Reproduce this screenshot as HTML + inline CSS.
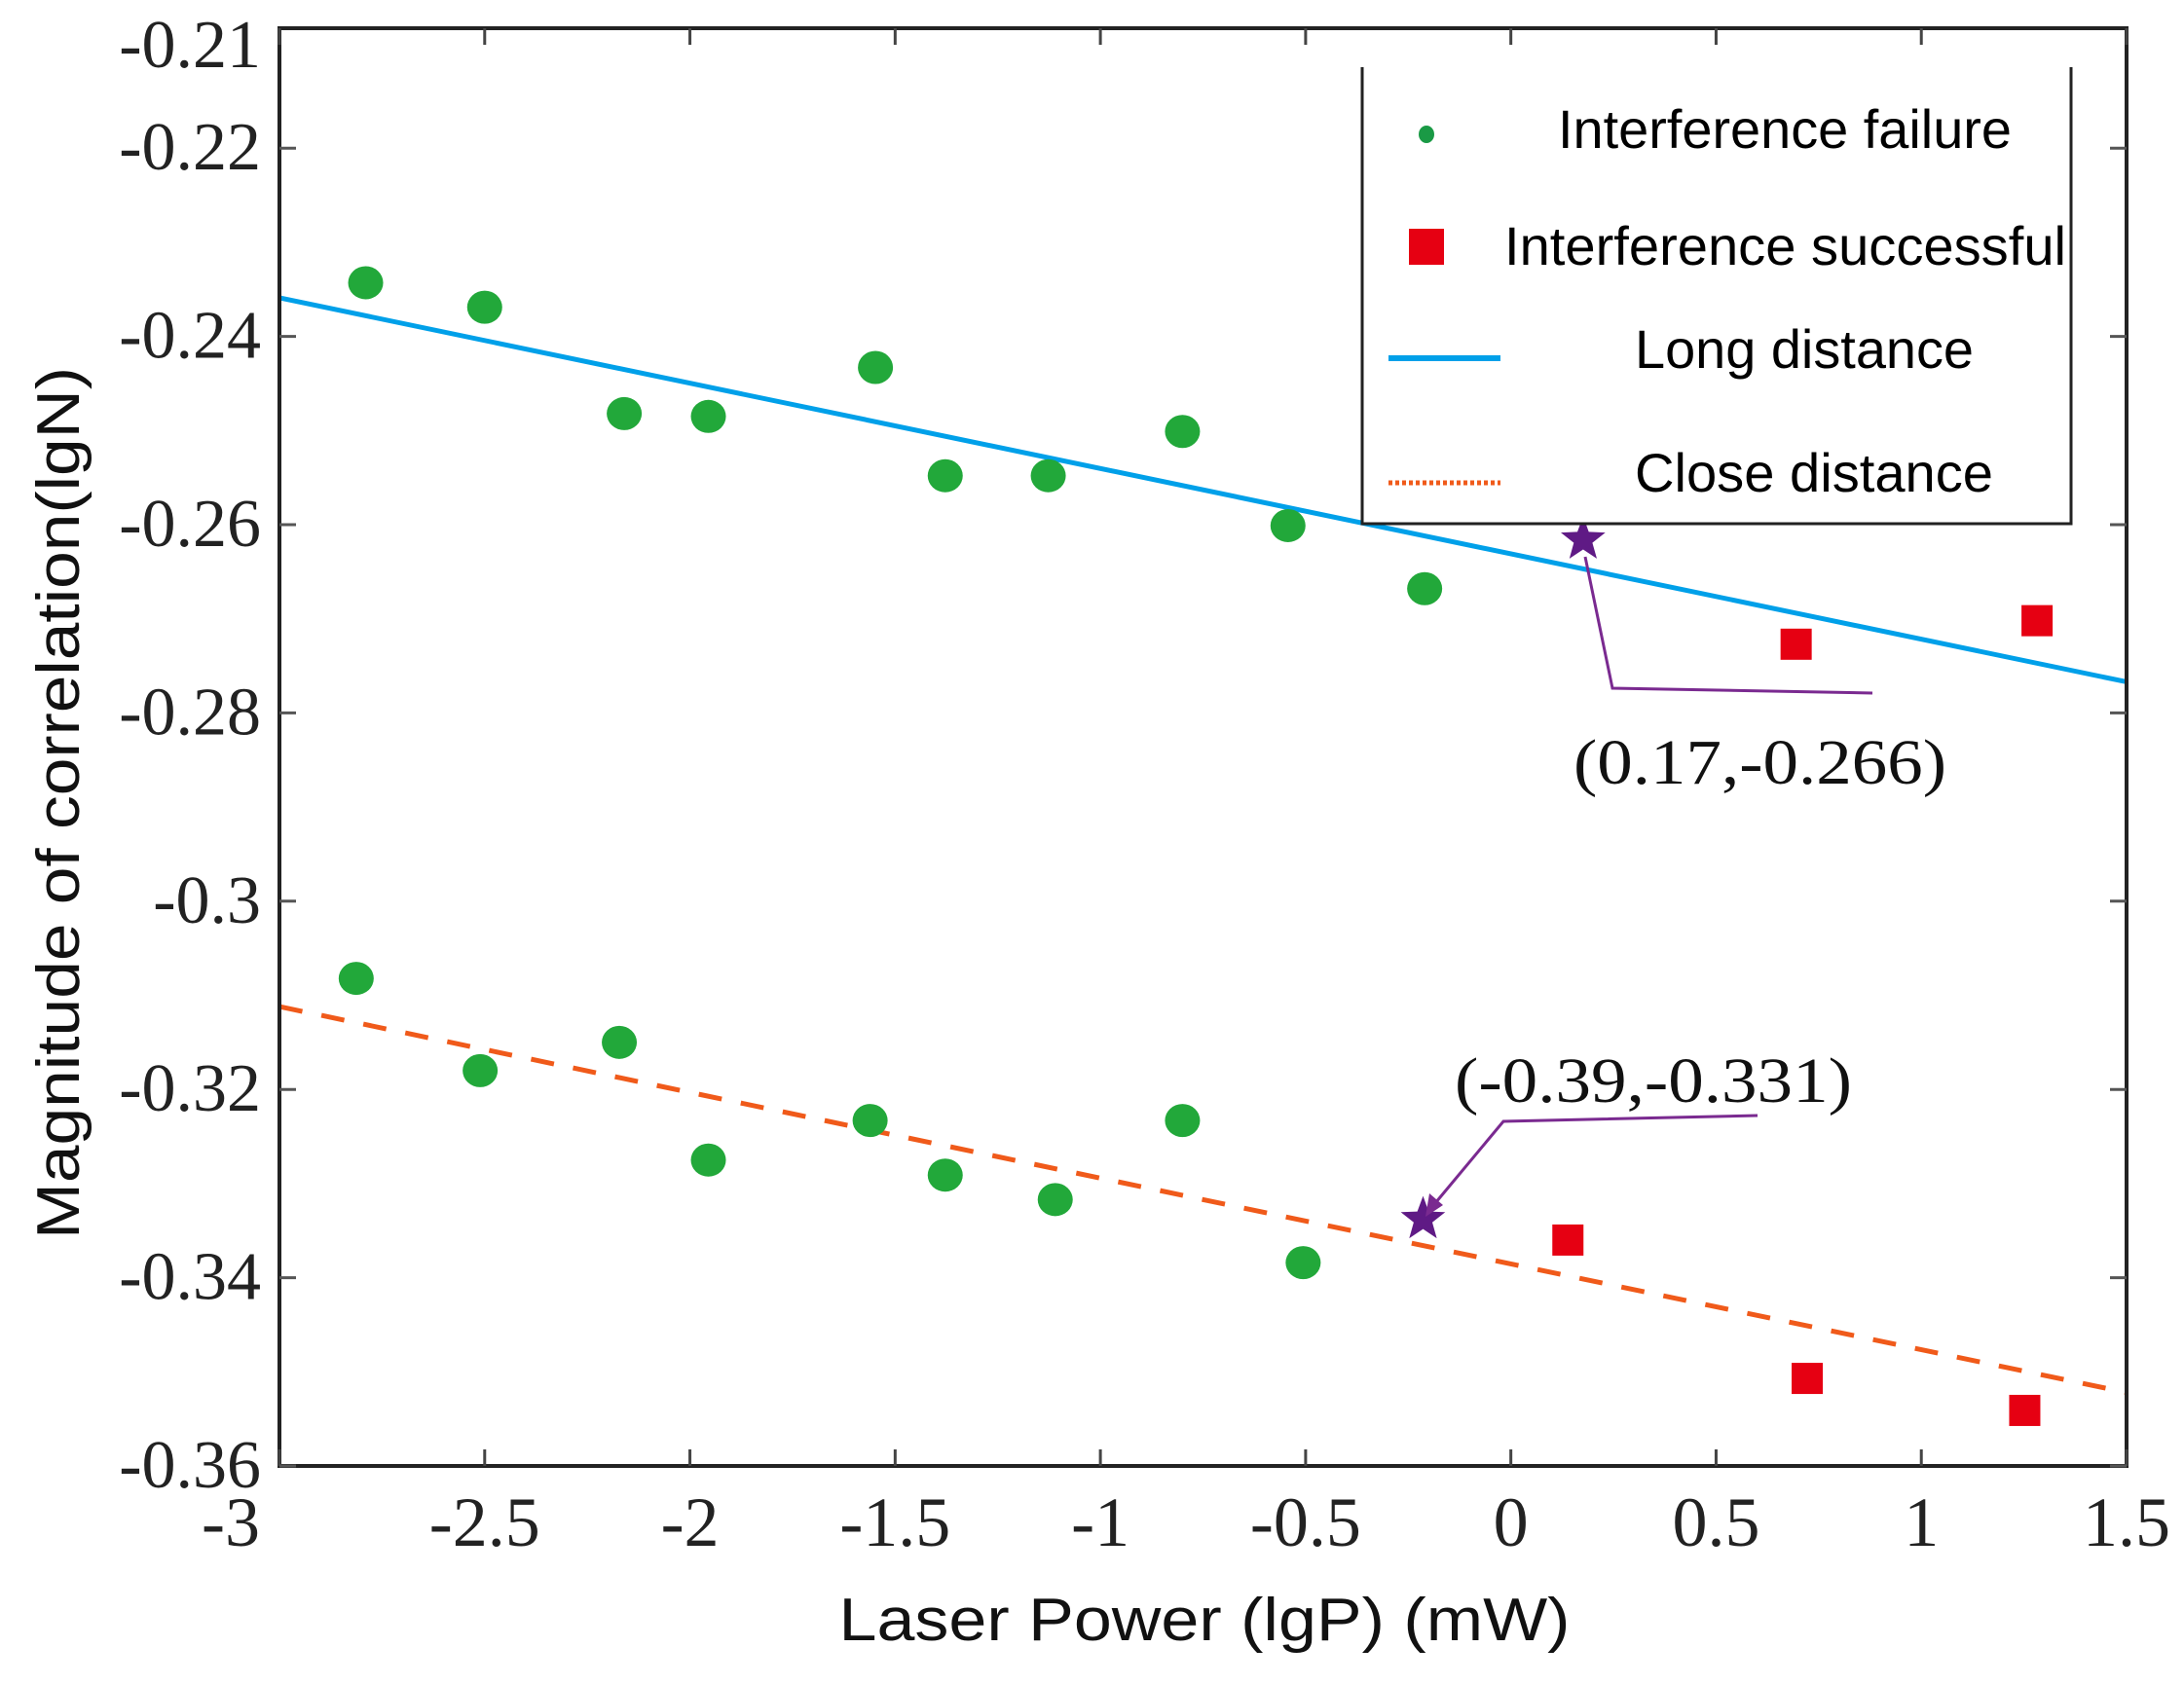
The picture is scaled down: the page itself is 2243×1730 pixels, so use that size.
<!DOCTYPE html>
<html><head><meta charset="utf-8"><style>
html,body{margin:0;padding:0;background:#fff;}
svg{display:block;}
</style></head><body>
<svg id="chart" width="2243" height="1730" viewBox="0 0 2243 1730" xmlns="http://www.w3.org/2000/svg">
<rect x="0" y="0" width="2243" height="1730" fill="#fff"/>
<g id="grid"></g>
<g id="lines"></g>
<g id="marks"></g>
<g id="axes"></g>
<g id="annots"></g>
<g id="legend"></g>
</svg>
<script>
const xTicks = [-3,-2.5,-2,-1.5,-1,-0.5,0,0.5,1,1.5];
const xTickLabels = ["-3","-2.5","-2","-1.5","-1","-0.5","0","0.5","1","1.5"];
const yTicks = [-0.21,-0.22,-0.24,-0.26,-0.28,-0.3,-0.32,-0.34,-0.36];
const yTickLabels = ["-0.21","-0.22","-0.24","-0.26","-0.28","-0.3","-0.32","-0.34","-0.36"];
const failLongX = [-2.79,-2.50,-2.16,-1.955,-1.548,-1.378,-1.127,-0.80,-0.543,-0.21];
const failLongY = [-0.2343,-0.2369,-0.2482,-0.2485,-0.2433,-0.2548,-0.2548,-0.2501,-0.2601,-0.2668];
const succLongX = [0.695,1.282];
const succLongY = [-0.2727,-0.2702];
const failCloseX = [-2.813,-2.511,-2.172,-1.955,-1.561,-1.378,-1.11,-0.80,-0.506];
const failCloseY = [-0.3082,-0.3180,-0.3150,-0.3275,-0.3233,-0.3291,-0.3317,-0.3233,-0.3384];
const succCloseX = [0.139,0.722,1.252];
const succCloseY = [-0.3360,-0.3507,-0.3541];
const longFitX = [-3,1.5];
const longFitY = [-0.2359,-0.2767];
const closeFitX = [-3,1.5];
const closeFitY = [-0.3112,-0.3522];
const starLong = [0.176,-0.2616];
const starClose = [-0.214,-0.3338];

const L=287,R=2184,T=29,B=1506;
const X0=-3,X1=1.5;
const YB=-0.36, YPX=9670;
function sx(v){return L+(v-X0)/(X1-X0)*(R-L);}
function sy(v){return B-(v-YB)*YPX;}
const NS="http://www.w3.org/2000/svg";
function mk(tag,attrs,parent){const e=document.createElementNS(NS,tag);for(const k in attrs)e.setAttribute(k,attrs[k]);parent.appendChild(e);return e;}
const gLines=document.getElementById('lines'),gMarks=document.getElementById('marks'),gAxes=document.getElementById('axes'),gAnn=document.getElementById('annots'),gLeg=document.getElementById('legend');

let e=mk('line',{x1:sx(longFitX[0]),y1:sy(longFitY[0]),x2:sx(longFitX[1]),y2:sy(longFitY[1]),stroke:'#00a0e9','stroke-width':5},gLines);


e=mk('line',{x1:sx(closeFitX[0]),y1:sy(closeFitY[0]),x2:sx(closeFitX[1]),y2:sy(closeFitY[1]),stroke:'#f05a1a','stroke-width':5,'stroke-dasharray':'24 20'},gLines);



function dots(xs,ys,name){for(let i=0;i<xs.length;i++){const c=mk('ellipse',{cx:sx(xs[i]),cy:sy(ys[i]),rx:18,ry:17,fill:'#22a83a'},gMarks);

}}
function squares(xs,ys,name){for(let i=0;i<xs.length;i++){const r=mk('rect',{x:sx(xs[i])-16,y:sy(ys[i])-16,width:32,height:32,fill:'#e60012'},gMarks);

}}
dots(failLongX,failLongY,'failure-point-long');
dots(failCloseX,failCloseY,'failure-point-close');
squares(succLongX,succLongY,'success-point-long');
squares(succCloseX,succCloseY,'success-point-close');

function starPts(cx,cy,ro,ri){let p=[];for(let i=0;i<10;i++){const a=-Math.PI/2+i*Math.PI/5;const r=i%2?ri:ro;p.push((cx+r*Math.cos(a)).toFixed(1)+','+(cy+r*Math.sin(a)).toFixed(1));}return p.join(' ');}
e=mk('polygon',{points:starPts(sx(starLong[0]),sy(starLong[1]),24,10),fill:'#5f1a85'},gMarks);


e=mk('polygon',{points:starPts(sx(starClose[0]),sy(starClose[1]),24,10),fill:'#5f1a85'},gMarks);



e=mk('rect',{x:L,y:T,width:R-L,height:B-T,fill:'none',stroke:'#222','stroke-width':4},gAxes);


xTicks.forEach((v,i)=>{const x=sx(v);
 mk('line',{x1:x,y1:B,x2:x,y2:B-17,stroke:'#444','stroke-width':3},gAxes);
 mk('line',{x1:x,y1:T,x2:x,y2:T+17,stroke:'#444','stroke-width':3},gAxes);
 const t=mk('text',{x:i===0?x-20:x,y:1588,'text-anchor':i===0?'end':'middle','font-family':'Liberation Serif, serif','font-size':72,fill:'#222'},gAxes);
 t.textContent=xTickLabels[i];
 
 });
yTicks.forEach((v,i)=>{const y=sy(v);
 if(i>0){mk('line',{x1:L,y1:y,x2:L+17,y2:y,stroke:'#555','stroke-width':3},gAxes);
 mk('line',{x1:R,y1:y,x2:R-17,y2:y,stroke:'#555','stroke-width':3},gAxes);}
 const t=mk('text',{x:268,y:(i===0?47:y)+22,'text-anchor':'end','font-family':'Liberation Serif, serif','font-size':70,fill:'#222'},gAxes);
 t.textContent=yTickLabels[i];
 
 });
e=mk('text',{x:1237,y:1685,'text-anchor':'middle','font-family':'Liberation Sans, sans-serif','font-size':62,fill:'#111',textLength:751,lengthAdjust:'spacingAndGlyphs'},gAxes);
e.textContent='Laser Power (lgP) (mW)';


e=mk('text',{x:0,y:0,'text-anchor':'middle','font-family':'Liberation Sans, sans-serif','font-size':62,fill:'#111',textLength:896,lengthAdjust:'spacingAndGlyphs',transform:'translate(81,825) rotate(-90)'},gAxes);
e.textContent='Magnitude of correlation(lgN)';



e=mk('polyline',{points:'1628,572 1656,707 1923,712',fill:'none',stroke:'#7a2a90','stroke-width':3},gAnn);


e=mk('text',{x:1616,y:805,'font-family':'Liberation Serif, serif','font-size':66,fill:'#111',textLength:383,lengthAdjust:'spacingAndGlyphs'},gAnn);
e.textContent='(0.17,-0.266)';


e=mk('polyline',{points:'1805,1146 1544,1152 1474,1236',fill:'none',stroke:'#7a2a90','stroke-width':3},gAnn);


e=mk('polygon',{points:'1464,1250 1468,1226 1482,1238',fill:'#7a2a90'},gAnn);


e=mk('text',{x:1494,y:1132,'font-family':'Liberation Serif, serif','font-size':66,fill:'#111',textLength:408,lengthAdjust:'spacingAndGlyphs'},gAnn);
e.textContent='(-0.39,-0.331)';



mk('rect',{x:1399,y:69,width:728,height:469,fill:'#fff',stroke:'none'},gLeg);
mk('polyline',{points:'1399,69 1399,538 2127,538 2127,69',fill:'none',stroke:'#222','stroke-width':3},gLeg);
e=mk('ellipse',{cx:1465,cy:138,rx:8,ry:9,fill:'#1a9a45'},gLeg);


e=mk('rect',{x:1447,y:235,width:36,height:37,fill:'#e60012'},gLeg);


e=mk('line',{x1:1426,y1:368,x2:1541,y2:368,stroke:'#00a0e9','stroke-width':6},gLeg);


e=mk('line',{x1:1426,y1:496,x2:1541,y2:496,stroke:'#f05a1a','stroke-width':5,'stroke-dasharray':'4 3'},gLeg);


const legTexts=[['Interference failure',1600,152,466],['Interference successful',1545,272,577],['Long distance',1679,378,348],['Close distance',1679,505,368]];
legTexts.forEach(a=>{const t=mk('text',{x:a[1],y:a[2],'font-family':'Liberation Sans, sans-serif','font-size':56,fill:'#000',textLength:a[3],lengthAdjust:'spacingAndGlyphs'},gLeg);
t.textContent=a[0];

});
</script>
</body></html>
